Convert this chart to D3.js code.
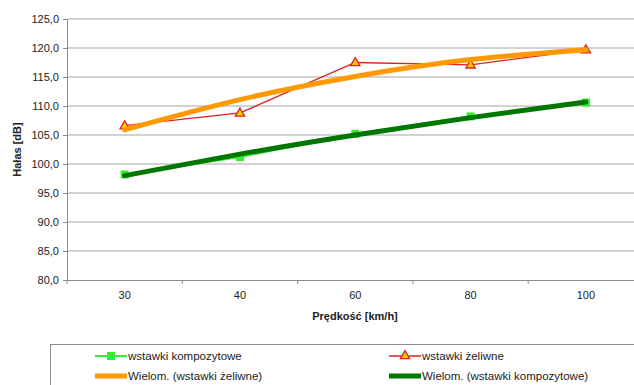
<!DOCTYPE html>
<html>
<head>
<meta charset="utf-8">
<script src="https://cdn.jsdelivr.net/npm/d3@7"></script>
<style>
  html, body { margin: 0; padding: 0; background: #fff; overflow: hidden; }
  svg { display: block; font-family: "Liberation Sans", Arial, sans-serif; }
</style>
</head>
<body>
<script>
// ---- data ----
const categories = ["30", "40", "60", "80", "100"];
const kompozytowe = [98.2, 101.2, 105.2, 108.2, 110.6];
const zeliwne = [106.6, 108.8, 117.5, 117.1, 119.7];
const trendZeliwne = [105.9, 111.1, 115.1, 118.0, 119.7];
const trendKompozytowe = [98.0, 101.7, 105.0, 108.0, 110.7];
const yTicks = [80, 85, 90, 95, 100, 105, 110, 115, 120, 125];
const seriesNames = ["wstawki kompozytowe", "wstawki żeliwne", "Wielom. (wstawki żeliwne)", "Wielom. (wstawki kompozytowe)"];
const yTitle = "Hałas [dB]";
const xTitle = "Prędkość [km/h]";

// ---- layout ----
const W = 634, H = 385;
const mLeft = 67, mRight = 643.5, mTop = 19, mBottom = 280;

const svg = d3.select("body").append("svg").attr("width", W).attr("height", H);

const x = d3.scaleBand().domain(categories).range([mLeft, mRight]).padding(0);
const y = d3.scaleLinear().domain([80, 125]).range([mBottom, mTop]);
const cx = c => x(c) + x.bandwidth() / 2;

// gridlines
svg.append("g").selectAll("line").data(yTicks.filter(t => t !== 80)).join("line")
  .attr("x1", mLeft).attr("x2", mRight)
  .attr("y1", d => y(d)).attr("y2", d => y(d))
  .attr("stroke", "#a6a6a6").attr("stroke-width", 1.2);

// y axis
const yAxis = svg.append("g").attr("transform", `translate(${mLeft},0)`)
  .call(d3.axisLeft(y).tickValues(yTicks).tickSize(4).tickSizeOuter(0)
    .tickFormat(d => d3.format(".1f")(d).replace(".", ",")));
yAxis.select(".domain").attr("stroke", "#8c8c8c");
yAxis.selectAll(".tick line").attr("stroke", "#8c8c8c");
yAxis.selectAll("text").attr("font-size", 11).attr("fill", "#222").attr("dx", "-1");

// x axis
const xAxis = svg.append("g").attr("transform", `translate(0,${mBottom})`)
  .call(d3.axisBottom(x).tickSize(0).tickSizeOuter(0));
xAxis.select(".domain").attr("stroke", "#8c8c8c");
xAxis.selectAll("text").attr("font-size", 11).attr("fill", "#222").attr("dy", "1.45em");
// category separator ticks
svg.append("g").selectAll("line").data(categories).join("line")
  .attr("x1", d => x(d)).attr("x2", d => x(d))
  .attr("y1", mBottom).attr("y2", mBottom + 4)
  .attr("stroke", "#8c8c8c");

// titles
svg.append("text").attr("transform", `translate(21,${(mTop + mBottom) / 2}) rotate(-90)`)
  .attr("text-anchor", "middle").attr("font-size", 11).attr("font-weight", "bold").attr("fill", "#222")
  .text(yTitle);
svg.append("text").attr("x", 355).attr("y", 320)
  .attr("text-anchor", "middle").attr("font-size", 11).attr("font-weight", "bold").attr("fill", "#222")
  .text(xTitle);

// series
const line = d3.line().x((d, i) => cx(categories[i])).y(d => y(d));
const curve = d3.line().x((d, i) => cx(categories[i])).y(d => y(d)).curve(d3.curveNatural);

svg.append("path").datum(kompozytowe).attr("d", line)
  .attr("fill", "none").attr("stroke", "#33ee33").attr("stroke-width", 2);
svg.append("g").selectAll("rect").data(kompozytowe).join("rect")
  .attr("x", (d, i) => cx(categories[i]) - 4).attr("y", d => y(d) - 4)
  .attr("width", 8).attr("height", 8).attr("fill", "#33ee33");

svg.append("path").datum(zeliwne).attr("d", line)
  .attr("fill", "none").attr("stroke", "#dd2222").attr("stroke-width", 1.3);
const tri = d3.symbol().type(d3.symbolTriangle).size(38);
svg.append("g").selectAll("path").data(zeliwne).join("path")
  .attr("d", tri)
  .attr("transform", (d, i) => `translate(${cx(categories[i])},${y(d) + 0.5})`)
  .attr("fill", "#ffcc00").attr("stroke", "#dd2222").attr("stroke-width", 1.3);

// trend lines
svg.append("path").datum(trendZeliwne).attr("d", curve)
  .attr("fill", "none").attr("stroke", "#ff9900").attr("stroke-width", 5).attr("stroke-linecap", "round");
svg.append("path").datum(trendKompozytowe).attr("d", curve)
  .attr("fill", "none").attr("stroke", "#007700").attr("stroke-width", 5).attr("stroke-linecap", "round");

// legend
const lg = svg.append("g");
lg.append("rect").attr("x", 50.5).attr("y", 344.5).attr("width", 600).attr("height", 60)
  .attr("fill", "#fff").attr("stroke", "#8c8c8c");
const items = [
  { name: seriesNames[0], x: 95, y: 356, color: "#33ee33", w: 2, marker: "square" },
  { name: seriesNames[1], x: 389, y: 356, color: "#dd2222", w: 1.5, marker: "tri" },
  { name: seriesNames[2], x: 95, y: 376, color: "#ff9900", w: 5 },
  { name: seriesNames[3], x: 389, y: 376, color: "#007700", w: 5 }
];
items.forEach(it => {
  lg.append("line").attr("x1", it.x).attr("x2", it.x + 32).attr("y1", it.y).attr("y2", it.y)
    .attr("stroke", it.color).attr("stroke-width", it.w);
  if (it.marker === "square") {
    lg.append("rect").attr("x", it.x + 12).attr("y", it.y - 4).attr("width", 8).attr("height", 8).attr("fill", it.color);
  } else if (it.marker === "tri") {
    lg.append("path").attr("d", tri).attr("transform", `translate(${it.x + 16},${it.y})`)
      .attr("fill", "#ffcc00").attr("stroke", "#dd2222").attr("stroke-width", 1.3);
  }
  lg.append("text").attr("x", it.x + 33).attr("y", it.y + 4).attr("font-size", 11.5).attr("fill", "#222").text(it.name);
});
</script>
</body>
</html>
